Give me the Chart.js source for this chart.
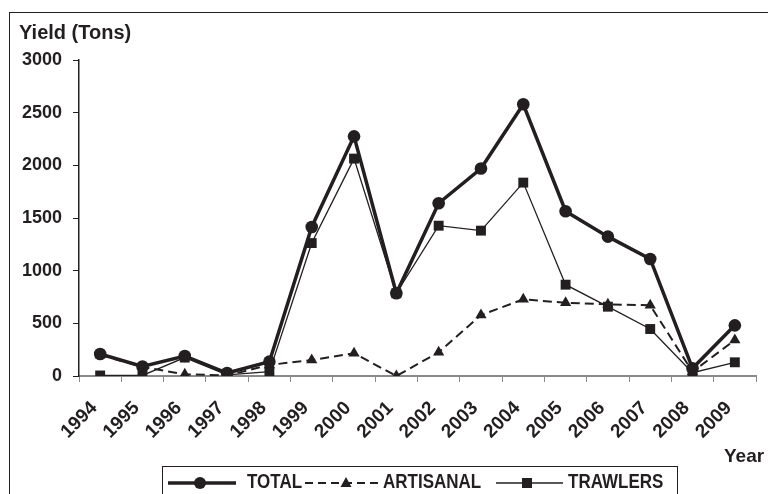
<!DOCTYPE html>
<html>
<head>
<meta charset="utf-8">
<script src="https://cdn.jsdelivr.net/npm/chart.js@4.4.1/dist/chart.umd.min.js"></script>
<style>
    html, body { margin: 0; padding: 0; background: #fff; }
    #wrap { position: relative; width: 768px; height: 494px; overflow: hidden; }
</style>
</head>
<body>
<div id="wrap"><canvas id="yieldChart" width="768" height="494"></canvas></div>
<script>
// Yield per year
const years = ['1994', '1995', '1996', '1997', '1998', '1999', '2000', '2001',
               '2002', '2003', '2004', '2005', '2006', '2007', '2008', '2009'];
const totalYield     = [209, 90, 190, 28, 136, 1415, 2275, 785, 1640, 1970, 2580, 1564, 1323, 1111, 73, 481];
const artisanalYield = [200, 85, 16, 5, 105, 152, 215, 0, 225, 579, 728, 695, 680, 671, 40, 342];
const trawlerYield   = [5, 5, 175, 10, 41, 1262, 2064, 785, 1427, 1380, 1836, 867, 658, 446, 31, 130];
const yTicks = [0, 500, 1000, 1500, 2000, 2500, 3000];

const INK = '#231f20';
const FONT = '"Liberation Sans", Arial, sans-serif';

// Text squeezed a little vertically-tall, like the original's condensed bold
function tallText(ctx, text, x, y, stretch) {
    ctx.save();
    ctx.translate(x, y);
    ctx.scale(1, stretch);
    ctx.fillText(text, 0, 0);
    ctx.restore();
}

// Frame, axis titles and the boxed legend (drawn by hand like the original)
const decorPlugin = {
    id: 'decor',
    beforeDraw(chart) {
        const ctx = chart.ctx;
        ctx.save();
        ctx.fillStyle = '#fff';
        ctx.fillRect(0, 0, chart.width, chart.height);
        ctx.strokeStyle = INK;
        ctx.lineWidth = 1;
        ctx.strokeRect(9.5, 12.5, 820, 520);
        ctx.restore();
    },
    afterDraw(chart) {
        const ctx = chart.ctx;
        ctx.save();
        ctx.fillStyle = INK;
        ctx.textBaseline = 'alphabetic';
        ctx.textAlign = 'left';
        ctx.font = 'bold 20px ' + FONT;
        ctx.fillText('Yield (Tons)', 19, 39);
        ctx.font = 'bold 19px ' + FONT;
        ctx.fillText('Year', 724, 462);

        // legend box
        ctx.strokeStyle = INK;
        ctx.lineWidth = 1;
        ctx.strokeRect(162.5, 466.5, 515, 40);

        const ly = 483;
        ctx.font = 'bold 17px ' + FONT;
        ctx.textBaseline = 'alphabetic';

        // TOTAL
        ctx.lineWidth = 3.5;
        ctx.beginPath(); ctx.moveTo(168, ly); ctx.lineTo(236, ly); ctx.stroke();
        ctx.beginPath(); ctx.arc(200, ly, 6, 0, Math.PI * 2); ctx.fill();
        tallText(ctx, 'TOTAL', 247, 488, 1.2);

        // ARTISANAL
        ctx.lineWidth = 2;
        ctx.setLineDash([8, 5]);
        ctx.beginPath(); ctx.moveTo(305, ly); ctx.lineTo(378, ly); ctx.stroke();
        ctx.setLineDash([]);
        ctx.beginPath();
        ctx.moveTo(346, ly - 6); ctx.lineTo(351.5, ly + 4); ctx.lineTo(340.5, ly + 4);
        ctx.closePath(); ctx.fill();
        tallText(ctx, 'ARTISANAL', 383, 488, 1.2);

        // TRAWLERS
        ctx.lineWidth = 1.3;
        ctx.beginPath(); ctx.moveTo(496, ly); ctx.lineTo(563, ly); ctx.stroke();
        ctx.fillRect(522, ly - 5, 10, 10);
        tallText(ctx, 'TRAWLERS', 568, 488, 1.2);
        ctx.restore();
    }
};

const ctx = document.getElementById('yieldChart').getContext('2d');

new Chart(ctx, {
    type: 'line',
    data: {
        labels: years,
        datasets: [
            {
                label: 'TOTAL',
                data: totalYield,
                borderColor: INK,
                backgroundColor: INK,
                borderWidth: 3.5,
                pointStyle: 'circle',
                pointRadius: 6.3,
                pointBorderWidth: 0,
                tension: 0,
                order: 0
            },
            {
                label: 'TRAWLERS',
                data: trawlerYield,
                borderColor: INK,
                backgroundColor: INK,
                borderWidth: 1.3,
                pointStyle: 'rect',
                pointRadius: 7,
                pointBorderWidth: 0,
                tension: 0,
                order: 1
            },
            {
                label: 'ARTISANAL',
                data: artisanalYield,
                borderColor: INK,
                backgroundColor: INK,
                borderWidth: 2,
                borderDash: [9, 5],
                pointStyle: 'triangle',
                pointRadius: 6.5,
                pointBorderWidth: 0,
                tension: 0,
                order: 2
            }
        ]
    },
    options: {
        responsive: false,
        animation: false,
        devicePixelRatio: 1,
        layout: { padding: { top: 60, right: 12, left: 0, bottom: 0 } },
        plugins: {
            legend: { display: false },
            tooltip: { enabled: false }
        },
        scales: {
            x: {
                offset: true,
                grid: {
                    offset: true,
                    drawOnChartArea: false,
                    drawTicks: true,
                    tickLength: 6,
                    color: '#8a8a8a',
                    lineWidth: 1
                },
                border: { color: '#8a8a8a', width: 2 },
                ticks: {
                    autoSkip: false,
                    minRotation: 45,
                    maxRotation: 45,
                    padding: 15,
                    labelOffset: -6,
                    color: INK,
                    font: { family: FONT, size: 19, weight: 'bold' }
                },
                afterFit(scale) { scale.height = 118; }
            },
            y: {
                min: 0,
                max: 3000,
                afterBuildTicks(scale) { scale.ticks = yTicks.map(v => ({ value: v })); },
                grid: {
                    drawOnChartArea: false,
                    drawTicks: true,
                    tickLength: 6,
                    color: INK,
                    lineWidth: 1
                },
                border: { color: INK, width: 1.5 },
                ticks: {
                    padding: 11,
                    color: INK,
                    callback: v => String(v),
                    font: { family: FONT, size: 18, weight: 'bold' }
                },
                afterFit(scale) { scale.width = 79; }
            }
        }
    },
    plugins: [decorPlugin]
});
</script>
</body>
</html>
